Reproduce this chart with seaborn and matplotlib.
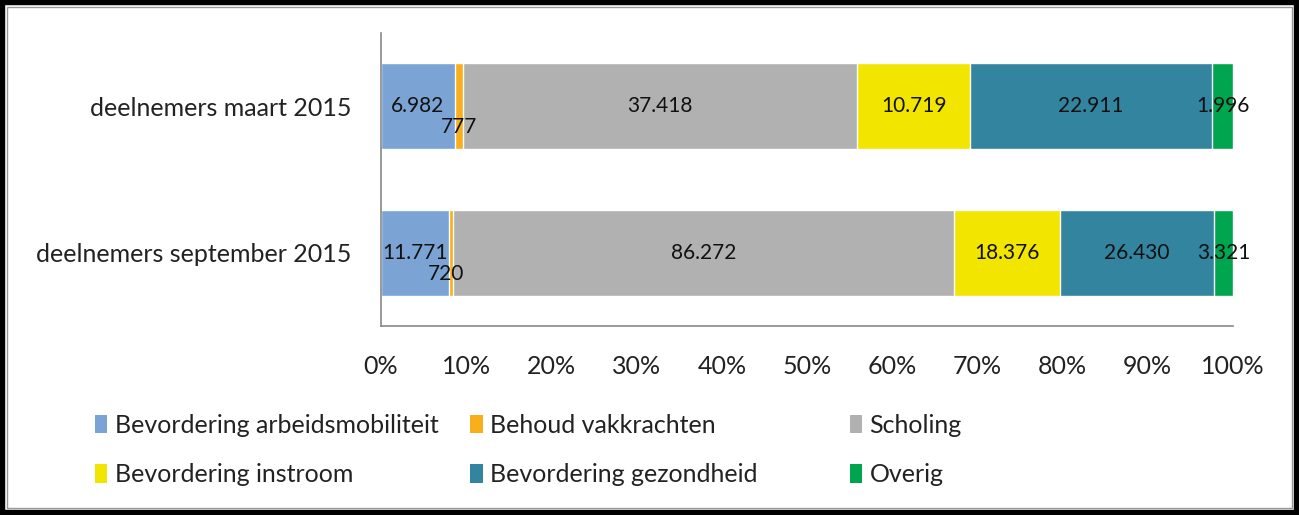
import pandas as pd
import numpy as np
import matplotlib.pyplot as plt
import seaborn as sns
from matplotlib.patches import Patch, Rectangle

# Data
periodes = ['deelnemers maart 2015', 'deelnemers september 2015']
series = ['Bevordering arbeidsmobiliteit', 'Behoud vakkrachten', 'Scholing',
          'Bevordering instroom', 'Bevordering gezondheid', 'Overig']
maart = [6982, 777, 37418, 10719, 22911, 1996]
september = [11771, 720, 86272, 18376, 26430, 3321]
kleuren = ['#7BA3D4', '#F9AE1B', '#B1B1B1', '#F2E600', '#33849E', '#00A54F']

tabela = pd.DataFrame([maart, september], index=periodes, columns=series)
perc = tabela.div(tabela.sum(axis=1), axis=0) * 100
cum = perc.cumsum(axis=1)

sns.set_style('white')
plt.rcParams['font.family'] = ['Lato', 'DejaVu Sans']

fig = plt.figure(figsize=(12.99, 5.15), dpi=100)
ax = fig.add_axes([0.2933, 0.367, 0.6559, 0.569])

# stacked: draw cumulative totals from the last series back to the first
for i in reversed(range(len(series))):
    df = pd.DataFrame({'periode': periodes, 'waarde': cum.iloc[:, i].values})
    sns.barplot(data=df, x='waarde', y='periode', color=kleuren[i],
                width=0.59, saturation=1, ax=ax, orient='h')

# data labels (small segments get pushed below, like Excel does)
for r, p in enumerate(periodes):
    for i, s in enumerate(series):
        x_mid = cum.loc[p, s] - perc.loc[p, s] / 2
        if perc.loc[p, s] < 2:
            off = (-5, -21) if perc.loc[p, s] < 0.7 else (0, -21)
        else:
            off = (0, 0)
        ax.annotate(f'{tabela.loc[p, s]:,}'.replace(',', '.'), (x_mid, r),
                    xytext=off, textcoords='offset pixels',
                    ha='center', va='center', fontsize=15, color='#111111')

ax.set_xlim(0, 100)
ax.set_ylim(1.5, -0.5)
ax.set_xticks(np.arange(0, 101, 10))
ax.set_xticklabels([f'{t}%' for t in range(0, 101, 10)])
ax.set_xlabel('')
ax.set_ylabel('')
ax.tick_params(axis='x', length=0, pad=21, labelsize=18, colors='#222222')
ax.tick_params(axis='y', length=0, pad=21, labelsize=18, colors='#222222')
for side in ['top', 'right']:
    ax.spines[side].set_visible(False)
for side in ['left', 'bottom']:
    ax.spines[side].set_color('#888888')
    ax.spines[side].set_linewidth(1.2)

# legend in three columns
handles = [Patch(facecolor=c, edgecolor='none') for c in kleuren]
col_x = [0.073, 0.362, 0.654]
for k in range(3):
    idx = [k, k + 3]
    leg = fig.legend([handles[j] for j in idx], [series[j] for j in idx],
                     loc='upper left', bbox_to_anchor=(col_x[k], 0.196),
                     frameon=False, fontsize=18, handlelength=0.5, handleheight=0.75,
                     handletextpad=0.3, labelspacing=1.05, borderpad=0, borderaxespad=0)
    for t in leg.get_texts():
        t.set_color('#222222')

# frame round the picture
fig.patches.append(Rectangle((0, 0), 1, 1, transform=fig.transFigure, fill=False,
                             edgecolor='black', linewidth=7.5))
fig.patches.append(Rectangle((0.0055, 0.014), 0.989, 0.972, transform=fig.transFigure,
                             fill=False, edgecolor='#999999', linewidth=1))

plt.savefig('out.png', dpi=100)
